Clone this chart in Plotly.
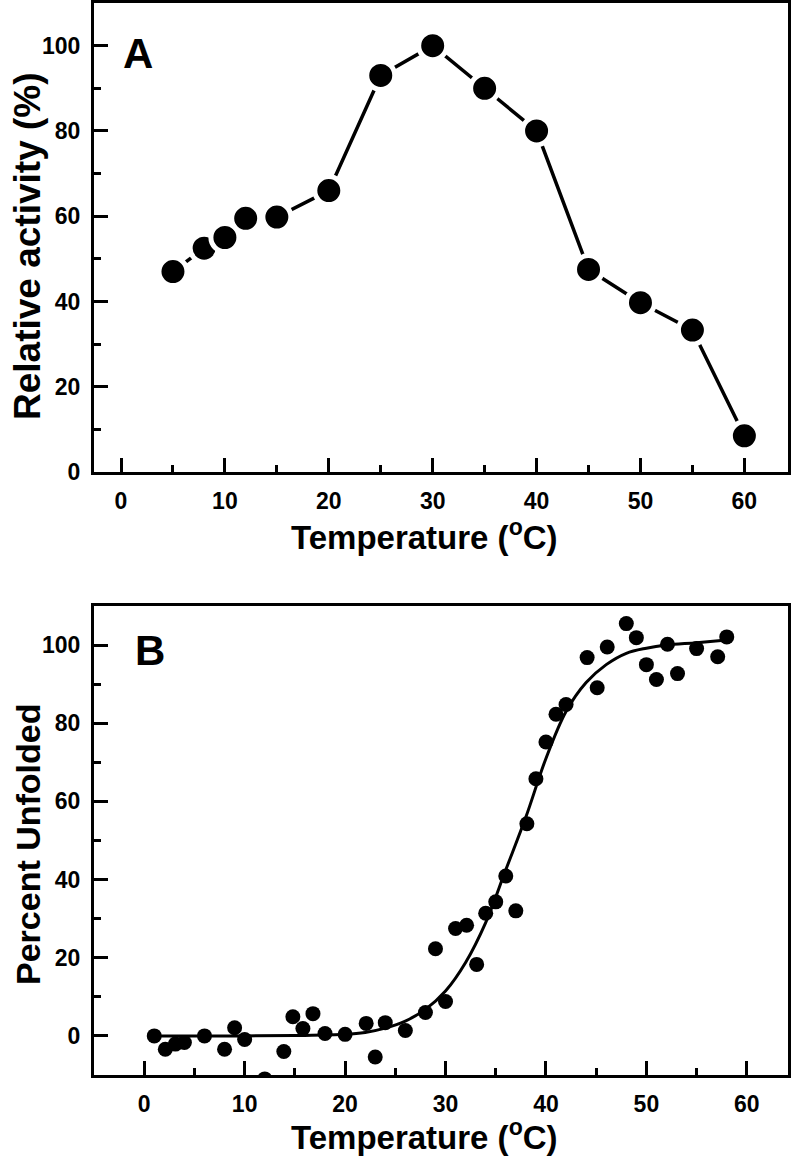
import plotly.graph_objects as go

# ---- Panel A: relative activity vs temperature ----
temp_a = [5, 8, 10, 12, 15, 20, 25, 30, 35, 40, 45, 50, 55, 60]
activity_a = [47, 52.5, 55, 59.5, 59.8, 66, 93, 100, 90, 80, 47.5, 39.7, 33.3, 8.5]

# ---- Panel B: percent unfolded vs temperature (measured points) ----
temp_b = [1, 2.1, 3.1, 4, 6, 8, 9, 10, 12, 13.9, 14.8, 15.8, 16.8, 18, 20,
          22.1, 23, 24, 26, 28, 29, 30, 31, 32.1, 33.1, 34, 35, 36, 37, 38.1,
          39, 40, 41, 42, 44.1, 45.1, 46.1, 48, 49, 50, 51, 52.1, 53.1, 55, 57.1, 58]
unfold_b = [0, -3.4, -2.1, -1.7, 0, -3.4, 2.1, -0.9, -11, -4, 4.9, 1.9, 5.7, 0.6, 0.4,
            3.2, -5.4, 3.4, 1.4, 6, 22.3, 8.8, 27.5, 28.3, 18.3, 31.4, 34.3, 40.9, 32, 54.3,
            65.8, 75.2, 82.3, 84.8, 96.8, 89.1, 99.5, 105.5, 101.9, 95, 91.2, 100.2, 92.7, 99.1, 97, 102.1]

# ---- Panel B: fitted curve ----
fit_t = [1, 5, 10, 15, 20, 22, 24, 26, 28, 30, 32, 34, 36, 38, 40, 42, 44, 46, 48, 50, 52, 55, 58]
fit_y = [0, 0, 0, 0.1, 0.4, 0.9, 2.0, 3.8, 6.8, 11.5, 18.8, 29, 42.5, 56, 71, 83, 90.4, 95, 97.9, 99.2, 100, 100.6, 101.3]

x_title = "Temperature (<sup>o</sup>C)"
y_title_a = "Relative activity (%)"
y_title_b = "Percent Unfolded"

FONT = "Liberation Sans, Arial, sans-serif"

fig = go.Figure()

fig.add_trace(go.Scatter(
    x=temp_a, y=activity_a, mode="lines+markers",
    line=dict(color="black", width=3.5),
    marker=dict(color="black", size=28, line=dict(color="white", width=5)),
    xaxis="x", yaxis="y", showlegend=False))

fig.add_trace(go.Scatter(
    x=fit_t, y=fit_y, mode="lines", line=dict(color="black", width=3, shape="spline"),
    xaxis="x2", yaxis="y2", showlegend=False))

fig.add_trace(go.Scatter(
    x=temp_b, y=unfold_b, mode="markers",
    marker=dict(color="black", size=15),
    xaxis="x2", yaxis="y2", showlegend=False))

H = 1157.0


def axis(**kw):
    d = dict(
        showline=True, linecolor="black", linewidth=3, mirror=True,
        ticks="inside", ticklen=14, tickwidth=3, tickcolor="black",
        showgrid=False, zeroline=False, automargin=False,
        tickfont=dict(family=FONT, size=23, color="black", weight="bold"),
        ticklabelstandoff=6,
    )
    d.update(kw)
    return d


minor_x = dict(ticks="inside", ticklen=7, tickwidth=3, tickcolor="black", dtick=5, tick0=0)
minor_y = dict(ticks="inside", ticklen=7, tickwidth=3, tickcolor="black", dtick=10, tick0=0)

xa = axis(range=[-2.6, 64.2], dtick=10, tick0=0, minor=minor_x)
ya = axis(range=[0, 110], dtick=20, tick0=0, minor=minor_y,
          domain=[1 - 472 / H, 1 - 3 / H])
xb = axis(range=[-5, 64.1], dtick=10, tick0=0, minor=minor_x, anchor="y2")
yb = axis(range=[-10, 110], dtick=20, tick0=0, minor=minor_y,
          domain=[1 - 1075 / H, 1 - 606 / H], anchor="x2")


def title_ann(text, x, y, size, angle=0):
    return dict(text=text, x=x, y=y, xref="paper", yref="paper", showarrow=False,
                xanchor="center", yanchor="middle", textangle=angle,
                font=dict(family=FONT, size=size, color="black", weight="bold"))


fig.update_layout(
    width=800, height=1157,
    margin=dict(l=94, r=12, t=0, b=0),
    paper_bgcolor="white", plot_bgcolor="white",
    xaxis=xa, yaxis=ya, xaxis2=xb, yaxis2=yb,
    annotations=[
        dict(text="A", x=1.66, y=98.2, xref="x", yref="y", showarrow=False,
             font=dict(family=FONT, size=42, color="black", weight="bold")),
        dict(text="B", x=0.6, y=98.7, xref="x2", yref="y2", showarrow=False,
             font=dict(family=FONT, size=42, color="black", weight="bold")),
        title_ann(x_title, (424 - 94) / 694, 1 - 535 / H, 33),
        title_ann(x_title, (424 - 94) / 694, 1 - 1135 / H, 33),
        title_ann(y_title_a, (28 - 94) / 694, 1 - 246 / H, 37, -90),
        title_ann(y_title_b, (28 - 94) / 694, 1 - 845 / H, 34, -90),
    ],
)

fig.write_html("out.html", config={"displayModeBar": False},
               post_script="document.body.style.margin='0';")
